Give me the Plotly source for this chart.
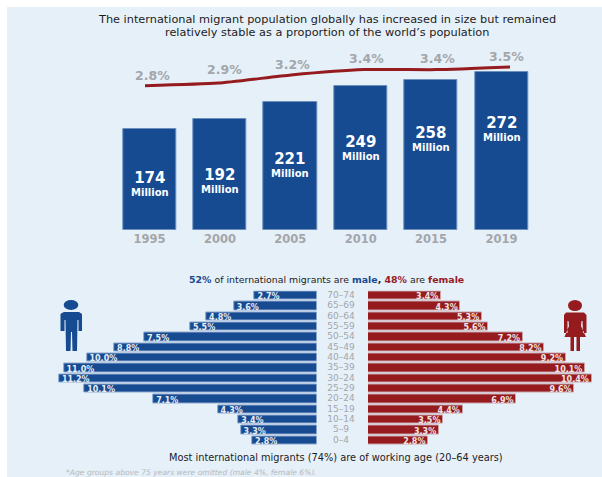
import plotly.graph_objects as go

# Migrant stock by year
years = ["1995", "2000", "2005", "2010", "2015", "2019"]
migrants_millions = [174, 192, 221, 249, 258, 272]
share_of_world = [2.8, 2.9, 3.2, 3.4, 3.4, 3.5]
share_labels = ["2.8%", "2.9%", "3.2%", "3.4%", "3.4%", "3.5%"]

# Age and sex composition
age_groups = ["70–74", "65–69", "60–64", "55–59", "50–54", "45–49", "40–44",
              "35–39", "30–24", "25–29", "20–24", "15–19", "10–14", "5–9", "0–4"]
male_pct = [2.7, 3.6, 4.8, 5.5, 7.5, 8.8, 10.0, 11.0, 11.2, 10.1, 7.1, 4.3, 3.4, 3.3, 2.8]
female_pct = [3.4, 4.3, 5.3, 5.6, 7.2, 8.2, 9.2, 10.1, 10.4, 9.6, 6.9, 4.4, 3.5, 3.3, 2.8]

W, H = 602, 477
BLUE = "#164a91"
RED = "#951b1e"
GREY = "#a3a6aa"
FONT = "DejaVu Sans"


def px(x):
    return x / W


def py(y):
    return 1 - y / H


def pct(values):
    return [f"{v:.1f}%" for v in values]


fig = go.Figure()

# Column chart of migrant counts
fig.add_trace(go.Bar(
    x=years, y=migrants_millions, width=0.755,
    marker=dict(color=BLUE, line=dict(color="#6d8fbd", width=1)),
    xaxis="x", yaxis="y", hoverinfo="skip",
))

# Share of world population
share_index = list(range(len(years)))
fig.add_trace(go.Scatter(
    x=share_index, y=share_of_world, mode="lines",
    line=dict(color=RED, width=3, shape="spline", smoothing=0.5),
    xaxis="x2", yaxis="y2", hoverinfo="skip",
))

# Population pyramid, male and female sides
fig.add_trace(go.Bar(
    y=age_groups, x=male_pct, orientation="h", width=0.83,
    marker=dict(color=BLUE, line=dict(color="#8ea9cf", width=1)),
    xaxis="x3", yaxis="y3", hoverinfo="skip",
))
fig.add_trace(go.Scatter(
    y=age_groups, x=male_pct, mode="text", text=[f"<b> {t}</b>" for t in pct(male_pct)],
    textposition="middle right", textfont=dict(color="#e8eef6", size=8, family=FONT),
    xaxis="x3", yaxis="y5", hoverinfo="skip",
))
fig.add_trace(go.Bar(
    y=age_groups, x=female_pct, orientation="h", width=0.83,
    marker=dict(color=RED, line=dict(color="#c9a3a8", width=1)),
    xaxis="x4", yaxis="y4", hoverinfo="skip",
))
fig.add_trace(go.Scatter(
    y=age_groups, x=female_pct, mode="text", text=[f"<b>{t} </b>" for t in pct(female_pct)],
    textposition="middle left", textfont=dict(color="#f3e6e6", size=8, family=FONT),
    xaxis="x4", yaxis="y5", hoverinfo="skip",
))
fig.add_trace(go.Scatter(
    y=age_groups, x=[0.5] * len(age_groups), mode="text", text=age_groups,
    textfont=dict(color=GREY, size=9, family=FONT),
    xaxis="x5", yaxis="y4", hoverinfo="skip",
))

hidden = dict(visible=False, fixedrange=True)
row_domain = [py(445.5), py(290.5)]
row_range = [len(age_groups) - 0.5, -0.5]
rows = dict(type="category", categoryorder="array", categoryarray=age_groups, range=row_range)

fig.update_layout(
    width=W, height=H, margin=dict(l=0, r=0, t=0, b=0),
    paper_bgcolor="white", plot_bgcolor="rgba(0,0,0,0)",
    showlegend=False, bargap=0, font=dict(family=FONT),
    xaxis=dict(domain=[px(114.3), px(536.7)], type="category", range=[-0.5, 5.5],
               categoryorder="array", categoryarray=years, fixedrange=True,
               showline=False, showgrid=False, ticks="", ticklen=0, automargin=False,
               tickfont=dict(color=GREY, size=11.5, family=FONT, weight=700), anchor="y"),
    yaxis=dict(domain=[py(230), py(30)], range=[0, 344.8], **hidden),
    xaxis2=dict(domain=[px(108.5), px(546.5)], range=[-0.5, 5.5], anchor="y2", **hidden),
    yaxis2=dict(domain=[py(100), py(40)], range=[2.2739, 4.4963], anchor="x2", **hidden),
    xaxis3=dict(domain=[px(316.7 - 11.5 * 23), px(316.7)], range=[11.5, 0], anchor="y3", **hidden),
    yaxis3=dict(domain=row_domain, anchor="x3", **rows, **hidden),
    xaxis4=dict(domain=[px(368), px(368 + 10.5 * 21.5)], range=[0, 10.5], anchor="y4", **hidden),
    yaxis4=dict(domain=row_domain, anchor="x4", **rows, **hidden),
    xaxis5=dict(domain=[px(320), px(362)], range=[0, 1], anchor="y4", **hidden),
    # Bar value labels use a row axis set slightly lower so they sit centred in the bars
    yaxis5=dict(domain=[py(447), py(292)], anchor="x3", **rows, **hidden),
)

# Percentage labels sit over the line, nudged off its path
share_nudges = [(7, -1), (6, 3), (1, 0), (2, 0), (0, 0), (-4, -1)]
annotations = [
    dict(x=i, y=v, xref="x2", yref="y2", text=f"<b>{label}</b>", showarrow=False,
         xshift=dx, yshift=11 + dy, font=dict(color=GREY, size=12.5, family=FONT))
    for i, v, label, (dx, dy) in zip(share_index, share_of_world, share_labels, share_nudges)
]

# Count labels inside the columns, measured down from each column's top
count_drops = [54, 62, 63, 62, 58, 56]
annotations += [
    dict(x=i, y=v, xref="x", yref="y", showarrow=False, yshift=-drop,
         text=f"<b><span style='font-size:15px'>{v}</span><br>Million</b>",
         font=dict(color="white", size=10, family=FONT))
    for i, v, drop in zip(share_index, migrants_millions, count_drops)
]


def note(x, y, text, size, color="#1c1c1c", xanchor="center"):
    return dict(x=px(x), y=py(y), xref="paper", yref="paper", text=text, showarrow=False,
                xanchor=xanchor, yanchor="middle",
                font=dict(size=size, color=color, family=FONT))


annotations += [
    note(327, 19.5, "The international migrant population globally has increased in size but remained", 11.3),
    note(327, 32.5, "relatively stable as a proportion of the world’s population", 11.3),
    note(327, 279, f"<b><span style='color:{BLUE}'>52%</span></b> of international migrants are "
                   f"<b><span style='color:{BLUE}'>male</span>, <span style='color:{RED}'>48%</span></b> are "
                   f"<b><span style='color:{RED}'>female</span></b>", 9.4),
    note(336, 457, "Most international migrants (74%) are of working age (20–64 years)", 9.8),
    note(64, 472, "<i>*Age groups above 75 years were omitted (male 4%, female 6%).</i>", 7.6,
         color="#b5b9bd", xanchor="left"),
]
fig.update_layout(annotations=annotations)


def path(points):
    """Closed polygon path through pixel positions on the page."""
    return "M " + " L ".join(f"{px(x):.5f},{py(y):.5f}" for x, y in points) + " Z"


def ellipse(cx, cy, rx, ry, color):
    return dict(type="circle", xref="paper", yref="paper", layer="above",
                x0=px(cx - rx), x1=px(cx + rx), y0=py(cy + ry), y1=py(cy - ry),
                fillcolor=color, line=dict(width=0))


male_body = [(62, 313), (64, 312), (79, 312), (82, 314), (82, 331), (78.5, 331), (78.5, 320), (77.5, 320),
             (77, 351), (72.5, 351), (72, 332), (71, 332), (70.5, 351), (66, 351), (65.5, 320), (64.5, 320),
             (64.5, 331), (60.5, 331), (60.5, 314)]
female_body = [(566, 312.5), (584, 312.5), (586.5, 315), (586.5, 333), (583, 333), (582.5, 321), (581.5, 321),
               (581, 326), (586, 337), (580, 337), (580, 351), (576.5, 351), (576.5, 337), (574, 337),
               (574, 351), (570.5, 351), (570.5, 337), (564.5, 337), (569, 326), (568.5, 321), (567.5, 321),
               (567.5, 333), (564, 333), (564, 315)]

fig.update_layout(shapes=[
    dict(type="rect", xref="paper", yref="paper", layer="below",
         x0=px(7), x1=1, y0=0, y1=py(7), fillcolor="#e6f0f9", line=dict(width=0)),
    ellipse(71, 305, 7.3, 5, BLUE),
    dict(type="path", xref="paper", yref="paper", layer="above", path=path(male_body),
         fillcolor=BLUE, line=dict(width=0)),
    ellipse(575, 305.5, 7, 5.5, RED),
    dict(type="path", xref="paper", yref="paper", layer="above", path=path(female_body),
         fillcolor=RED, line=dict(width=0)),
])

fig.write_html("out.html", config={"displayModeBar": False})
